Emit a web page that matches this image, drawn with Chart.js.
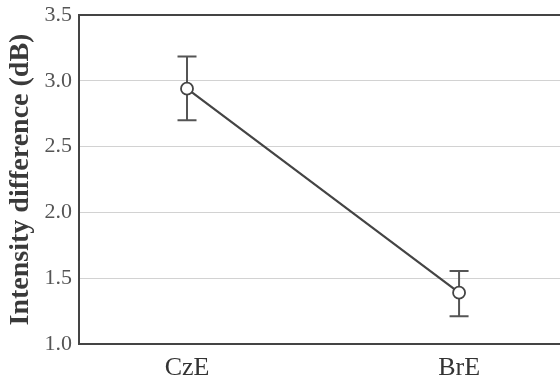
<!DOCTYPE html>
<html>
<head>
<meta charset="utf-8">
<script src="https://cdn.jsdelivr.net/npm/chart.js@4/dist/chart.umd.min.js"></script>
<style>
  html, body { margin: 0; padding: 0; background: #fff; overflow: hidden; }
  #wrap { width: 560px; height: 378px; position: relative; }
</style>
</head>
<body>
<div id="wrap"><canvas id="intensityChart"></canvas></div>
<script>
// Intensity difference by speaker group: mean with error bars.
const categories = ['CzE', 'BrE'];
const xPositions = [0, 1];
const means = [2.94, 1.39];
const lowerBounds = [2.70, 1.21];
const upperBounds = [3.185, 1.555];
const yTicks = [1.0, 1.5, 2.0, 2.5, 3.0, 3.5];

const SERIF = '"Liberation Serif", "Times New Roman", serif';
const INK = '#444444';

// whiskers + caps, drawn before the points so the white markers sit on top
const errorBarPlugin = {
  id: 'errorBars',
  beforeDatasetsDraw(chart) {
    const { ctx, scales: { x, y } } = chart;
    ctx.save();
    ctx.strokeStyle = '#555555';
    ctx.lineWidth = 2;
    xPositions.forEach((xv, i) => {
      const px = x.getPixelForValue(xv);
      const top = y.getPixelForValue(upperBounds[i]);
      const bot = y.getPixelForValue(lowerBounds[i]);
      const cap = 9.5;
      ctx.beginPath();
      ctx.moveTo(px, top);
      ctx.lineTo(px, bot);
      ctx.moveTo(px - cap, top);
      ctx.lineTo(px + cap, top);
      ctx.moveTo(px - cap, bot);
      ctx.lineTo(px + cap, bot);
      ctx.stroke();
    });
    ctx.restore();
  },
};

const isFrame = (c) => c.tick && (c.tick.value === 3.5 || c.tick.value === 1.0);

new Chart(document.getElementById('intensityChart'), {
  type: 'line',
  data: {
    datasets: [{
      data: xPositions.map((xv, i) => ({ x: xv, y: means[i] })),
      borderColor: INK,
      borderWidth: 2.2,
      pointRadius: 6,
      pointBorderWidth: 1.8,
      pointBackgroundColor: '#ffffff',
      pointBorderColor: INK,
      tension: 0,
    }],
  },
  options: {
    responsive: true,
    maintainAspectRatio: false,
    animation: false,
    layout: { autoPadding: false, padding: { top: 15, right: 0, bottom: 0, left: 0 } },
    plugins: { legend: { display: false }, tooltip: { enabled: false } },
    scales: {
      x: {
        type: 'linear',
        min: -0.397,
        max: 1.371,
        afterBuildTicks: (scale) => { scale.ticks = xPositions.map((v) => ({ value: v })); },
        afterFit: (scale) => { scale.height = 34; scale.paddingLeft = 0; scale.paddingRight = 0; },
        grid: { display: false, drawTicks: false },
        border: { display: true, color: INK, width: 2 },
        ticks: {
          padding: 9,
          color: '#333333',
          font: { family: SERIF, size: 26 },
          callback: (v) => categories[xPositions.indexOf(v)],
        },
      },
      y: {
        min: 1.0,
        max: 3.5,
        afterBuildTicks: (scale) => { scale.ticks = yTicks.map((v) => ({ value: v })); },
        afterFit: (scale) => { scale.width = 79; scale.paddingTop = 0; scale.paddingBottom = 0; },
        grid: {
          drawTicks: false,
          color: (c) => (isFrame(c) ? INK : '#d2d2d2'),
          lineWidth: (c) => (isFrame(c) ? 2 : 1),
        },
        border: { display: true, color: INK, width: 2 },
        ticks: {
          padding: 7,
          color: '#555555',
          font: { family: SERIF, size: 22 },
          callback: (v) => Number(v).toFixed(1),
        },
        title: {
          display: true,
          text: 'Intensity difference (dB)',
          color: '#3a3a3a',
          padding: { top: 4, bottom: 0 },
          font: { family: SERIF, size: 28, weight: 'bold' },
        },
      },
    },
  },
  plugins: [errorBarPlugin],
});
</script>
</body>
</html>
